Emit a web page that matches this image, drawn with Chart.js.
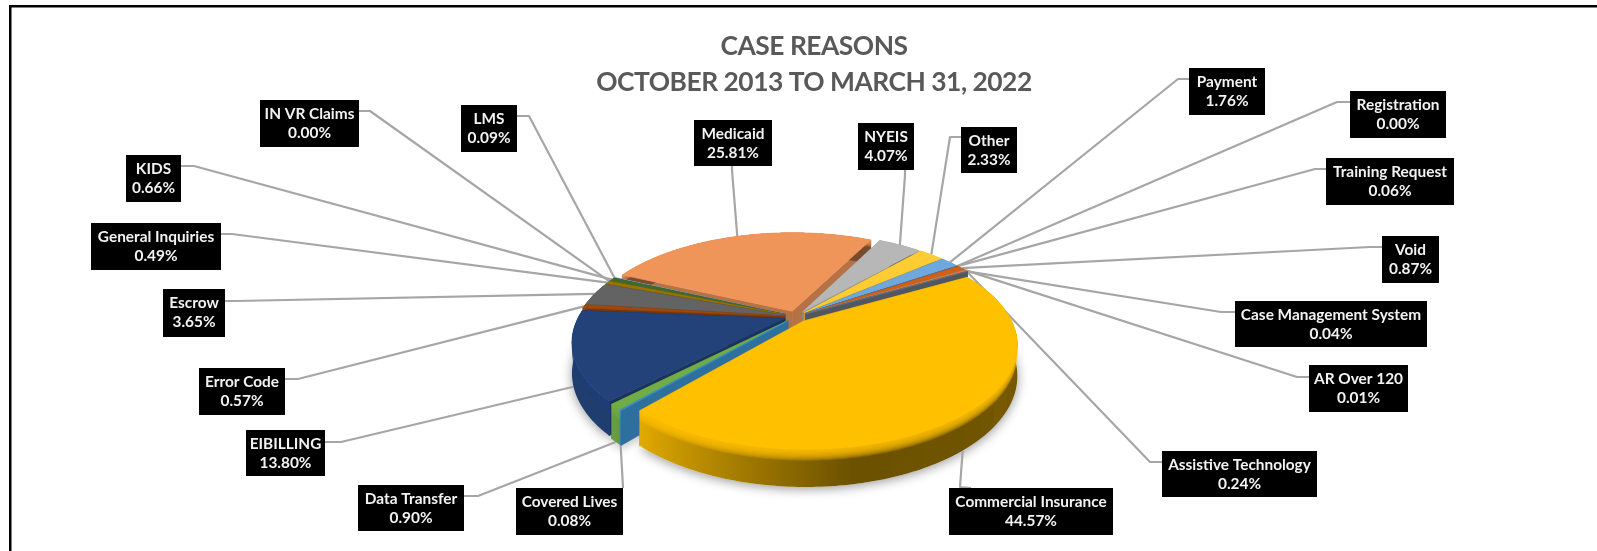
<!DOCTYPE html>
<html>
<head>
<meta charset="utf-8">
<title>Case Reasons</title>
<script src="https://cdn.jsdelivr.net/npm/chart.js@4"></script>
<style>
    html, body { margin: 0; padding: 0; background: #fff; }
    canvas { display: block; }
</style>
</head>
<body>
<canvas id="case-reasons" width="1597" height="551"></canvas>
<script>
var titleLines = ['CASE REASONS', 'OCTOBER 2013 TO MARCH 31, 2022'];

var categories = ['AR Over 120', 'Assistive Technology', 'Case Management System', 'Commercial Insurance',
    'Covered Lives', 'Data Transfer', 'EIBILLING', 'Error Code', 'Escrow', 'General Inquiries',
    'IN VR Claims', 'KIDS', 'LMS', 'Medicaid', 'NYEIS', 'Other', 'Payment', 'Registration',
    'Training Request', 'Void'];

var caseShares = [0.01, 0.24, 0.04, 44.57, 0.08, 0.90, 13.80, 0.57, 3.65, 0.49,
    0.00, 0.66, 0.09, 25.81, 4.07, 2.33, 1.76, 0.00, 0.06, 0.87];

var sliceColors = ['#5B9BD5', '#ED7D31', '#6B7280', '#FFC000', '#3D94CF', '#70AD47', '#224279', '#9E480E',
    '#636363', '#997300', '#264478', '#43682B', '#7CAFDD', '#EF955A', '#B7B7B7', '#FFCD33', '#6FA8DC',
    '#8CC168', '#327DC2', '#D26012'];

// label boxes: left, top, right, bottom
var labelBoxes = [[1309, 365, 1408, 412], [1162, 451, 1317, 497], [1235, 301, 1427, 347], [949, 488, 1113, 535],
    [516, 488, 623, 535], [358, 485, 464, 531], [246, 430, 325, 476], [199, 368, 285, 415], [163, 289, 225, 337],
    [91, 223, 221, 270], [260, 100, 359, 147], [126, 155, 181, 202], [461, 105, 517, 152], [694, 120, 772, 166],
    [858, 123, 914, 170], [961, 127, 1017, 173], [1189, 68, 1265, 115], [1350, 91, 1446, 138],
    [1326, 158, 1454, 205], [1382, 236, 1439, 283]];

// leader line start and elbow next to each box
var leaderStarts = [[1309, 377, 1297, 377], [1162, 462, 1150, 462], [1235, 312, 1221, 312], [971, 488, 960, 487],
    [623, 488, 623, 488], [464, 496, 478, 496], [325, 442, 341, 442], [285, 379, 298, 379], [225, 301, 236, 301],
    [221, 234, 232, 234], [359, 111, 370, 111], [181, 166, 194, 166], [517, 116, 529, 116], [732, 166, 732, 170],
    [905, 170, 905, 175], [961, 137, 950, 137], [1189, 79, 1178, 79], [1350, 102, 1337, 102],
    [1326, 169, 1315, 169], [1382, 247, 1370, 247]];

var pieRadius = 206;
var sliceOffset = 12;
var squash = 0.475;      // height of the tilted disc against its width
var perspective = 0.22;  // how much the far side shrinks
var wallDepth = 29;
var labelFont = 'bold 15.4px Lato';
var titleFont = 'bold 26.4px Lato';

function project(el, angle, r, depth) {
    var mid = (el.startAngle + el.endAngle) / 2;
    var off = el.options.offset / el.outerRadius;
    var gx = r * Math.cos(angle) + off * Math.cos(mid);
    var gy = r * Math.sin(angle) + off * Math.sin(mid);
    var s = 1 / (1 - perspective * gy);
    return {
        x: el.x + el.outerRadius * gx * s,
        y: el.y + el.outerRadius * squash * gy * s + wallDepth * depth * s
    };
}

function hexToRgb(hex) {
    return [parseInt(hex.substr(1, 2), 16), parseInt(hex.substr(3, 2), 16), parseInt(hex.substr(5, 2), 16)];
}

function mix(a, b, t) {
    return [a[0] + (b[0] - a[0]) * t, a[1] + (b[1] - a[1]) * t, a[2] + (b[2] - a[2]) * t];
}

function css(c) {
    return 'rgb(' + Math.round(c[0]) + ',' + Math.round(c[1]) + ',' + Math.round(c[2]) + ')';
}

// light comes from the lower left, so the rim darkens towards the right
function rimShade(angle) {
    var cw = ((angle * 180 / Math.PI + 90) % 360 + 360) % 360;
    if (cw >= 225) return 0.92;
    if (cw >= 170) return 0.42 + (cw - 170) / 55 * 0.5;
    return 0.42 + (170 - cw) / 170 * 0.1;
}

function tracePoly(ctx, pts) {
    ctx.beginPath();
    ctx.moveTo(pts[0].x, pts[0].y);
    for (var i = 1; i < pts.length; i++) ctx.lineTo(pts[i].x, pts[i].y);
    ctx.closePath();
}

function fillPoly(ctx, pts, color) {
    tracePoly(ctx, pts);
    ctx.fillStyle = color;
    ctx.strokeStyle = color;
    ctx.lineWidth = 0.6;
    ctx.fill();
    ctx.stroke();
}

function drawCutWall(ctx, el, angle, color) {
    fillPoly(ctx, [project(el, angle, 0, 0), project(el, angle, 1, 0), project(el, angle, 1, 1), project(el, angle, 0, 1)], color);
}

function arcPoints(el, depth) {
    var span = el.endAngle - el.startAngle;
    var steps = Math.max(1, Math.ceil(span / (Math.PI / 180)));
    var pts = [];
    for (var i = 0; i <= steps; i++) {
        pts.push(project(el, el.startAngle + span * i / steps, 1, depth));
    }
    return pts;
}

function drawRim(ctx, el, face) {
    var span = el.endAngle - el.startAngle;
    var top = arcPoints(el, 0);
    var foot = arcPoints(el, 1);
    var i;

    // side-to-side shading of the wall, only the near part of the arc counts
    var xs = top.map(function (p) { return p.x; });
    var minX = Math.min.apply(null, xs);
    var maxX = Math.max.apply(null, xs);
    var grad = ctx.createLinearGradient(minX, 0, Math.max(maxX, minX + 1), 0);
    for (i = 0; i < top.length; i++) {
        var a = el.startAngle + span * i / (top.length - 1);
        if (Math.sin(a) < -0.25) continue;
        grad.addColorStop((top[i].x - minX) / Math.max(maxX - minX, 1), css(mix([0, 0, 0], face, rimShade(a))));
    }
    grad.addColorStop(0, css(mix([0, 0, 0], face, rimShade(el.endAngle))));
    tracePoly(ctx, top.concat(foot.slice().reverse()));
    ctx.fillStyle = grad;
    ctx.fill();

    // rounded upper edge: thin layers of the face colour build up towards the top
    ctx.save();
    ctx.globalAlpha = 0.22;
    for (var d = 0.3; d > 0.03; d -= 0.03) {
        tracePoly(ctx, top.concat(arcPoints(el, d).reverse()));
        ctx.fillStyle = css(face);
        ctx.fill();
    }
    ctx.restore();
}

function sliceOutline(el, depth) {
    return [project(el, 0, 0, depth)].concat(arcPoints(el, depth));
}

function drawSlice(ctx, el, hex) {
    var face = hexToRgb(hex);
    var cutColor = css(mix([0, 0, 0], face, 0.76));
    drawCutWall(ctx, el, el.startAngle, cutColor);
    drawCutWall(ctx, el, el.endAngle, cutColor);
    drawRim(ctx, el, face);
    fillPoly(ctx, sliceOutline(el, 0), hex);
}

// soft shadow on the floor under each slice
function drawFloorShadow(ctx, arcs) {
    ctx.save();
    ctx.shadowColor = 'rgba(0,0,0,0.4)';
    ctx.shadowBlur = 11;
    ctx.shadowOffsetY = 2;
    ctx.fillStyle = '#fff';
    arcs.forEach(function (el) {
        if (el.endAngle - el.startAngle < 0.05) return;
        tracePoly(ctx, sliceOutline(el, 1));
        ctx.fill();
    });
    ctx.restore();
}

function drawLeader(ctx, el, i) {
    var mid = (el.startAngle + el.endAngle) / 2;
    // slices on the near side are reached at the foot of their wall
    var end = project(el, mid, 1, Math.sin(mid) > 0 ? 1 : 0);
    var s = leaderStarts[i];
    ctx.beginPath();
    ctx.moveTo(s[0], s[1]);
    ctx.lineTo(s[2], s[3]);
    ctx.lineTo(end.x, end.y);
    ctx.strokeStyle = '#A6A6A6';
    ctx.lineWidth = 2.2;
    ctx.lineJoin = 'round';
    ctx.stroke();
}

function drawLabel(ctx, i) {
    var b = labelBoxes[i];
    ctx.fillStyle = '#000';
    ctx.fillRect(b[0], b[1], b[2] - b[0], b[3] - b[1]);
    ctx.fillStyle = '#F2F2F2';
    ctx.font = labelFont;
    ctx.textAlign = 'center';
    ctx.textBaseline = 'middle';
    var cx = (b[0] + b[2]) / 2;
    ctx.fillText(categories[i], cx, b[1] + 14.5);
    ctx.fillText(caseShares[i].toFixed(2) + '%', cx, b[1] + 33.5);
}

var pie3dPlugin = {
    id: 'pie3d',
    beforeDatasetsDraw: function (chart) {
        var ctx = chart.ctx;
        var arcs = chart.getDatasetMeta(0).data;
        var i;

        ctx.save();

        // frame along the top and left
        ctx.fillStyle = '#000';
        ctx.fillRect(9, 5, 1588, 2.5);
        ctx.fillRect(9, 5, 2.5, 546);

        ctx.fillStyle = '#595959';
        ctx.font = titleFont;
        ctx.letterSpacing = '-0.5px';
        ctx.textAlign = 'center';
        ctx.textBaseline = 'alphabetic';
        ctx.fillText(titleLines[0], 814, 55);
        ctx.fillText(titleLines[1], 814, 91);
        ctx.letterSpacing = '0px';

        drawFloorShadow(ctx, arcs);

        for (i = 0; i < arcs.length; i++) drawLeader(ctx, arcs[i], i);

        // far slices first
        var order = arcs.map(function (el, idx) { return idx; }).filter(function (idx) {
            return caseShares[idx] > 0;
        });
        order.sort(function (a, b) {
            return Math.sin((arcs[a].startAngle + arcs[a].endAngle) / 2) - Math.sin((arcs[b].startAngle + arcs[b].endAngle) / 2);
        });
        order.forEach(function (idx) { drawSlice(ctx, arcs[idx], sliceColors[idx]); });

        for (i = 0; i < arcs.length; i++) drawLabel(ctx, i);

        ctx.restore();
        return false;
    }
};

new Chart(document.getElementById('case-reasons'), {
    type: 'pie',
    plugins: [pie3dPlugin],
    data: {
        labels: categories,
        datasets: [{
            data: caseShares,
            backgroundColor: sliceColors,
            borderWidth: 0,
            offset: sliceOffset
        }]
    },
    options: {
        responsive: false,
        animation: false,
        events: [],
        rotation: 60,
        radius: pieRadius,
        layout: { padding: { top: 82, right: 5, bottom: 0, left: 0 } },
        plugins: { legend: { display: false }, tooltip: { enabled: false } }
    }
});
</script>
</body>
</html>
